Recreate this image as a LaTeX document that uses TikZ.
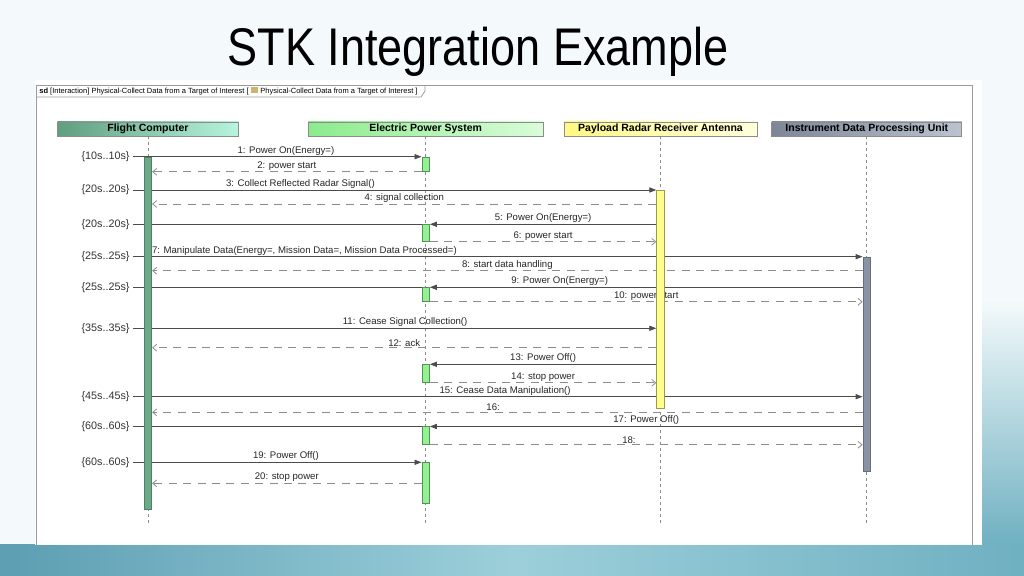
\documentclass[tikz,border=0pt]{standalone}
\usepackage{fontspec}
\setmainfont{Liberation Sans}
\usetikzlibrary{arrows.meta,positioning}
\pgfdeclarelayer{back}
\pgfsetlayers{back,main}
\definecolor{slide}{HTML}{F4FAFB}
\definecolor{tealA}{HTML}{5C9EB2}
\definecolor{tealB}{HTML}{9CCFDA}
\definecolor{tealC}{HTML}{6FB0C1}
\definecolor{frameline}{HTML}{9A9A9A}
\definecolor{fcL}{HTML}{5E9F7F}
\definecolor{fcR}{HTML}{B8F4DE}
\definecolor{fcfill}{HTML}{6BAA87}
\definecolor{epsL}{HTML}{8CEB8C}
\definecolor{epsR}{HTML}{D9FCD9}
\definecolor{epsfill}{HTML}{92F292}
\definecolor{prL}{HTML}{FFF985}
\definecolor{prR}{HTML}{FFFFDC}
\definecolor{prfill}{HTML}{FFFF8A}
\definecolor{idL}{HTML}{7D8697}
\definecolor{idR}{HTML}{BBC3CF}
\definecolor{idfill}{HTML}{8893A3}
\definecolor{iconcol}{HTML}{CDB46A}

\begin{document}
\begin{tikzpicture}[x=0.5pt,y=-0.5pt,
    head node/.style={draw=black!45,line width=0.4pt,minimum height=7pt,inner sep=0pt,font=\fontsize{5.25}{6}\selectfont\bfseries},
    act node/.style={draw,line width=0.4pt,minimum width=3.8pt,inner sep=0pt,anchor=north},
    time node/.style={anchor=east,inner xsep=1.5pt,inner ysep=0pt,font=\fontsize{5.4}{6}\selectfont,text=black!80},
    msg node/.style={above,inner sep=0.6pt,font=\fontsize{4.8}{5.5}\selectfont,text=black!85},
    call/.style={draw=black!70,line width=0.4pt,-{Triangle[length=3.5pt,width=2.6pt]}},
    reply/.style={draw=black!45,line width=0.4pt,dash pattern=on 4pt off 3.2pt,-{Straight Barb[length=2pt,width=3.4pt]}},
    guard/.style={draw=black!70,line width=0.4pt},
    life/.style={draw=black!45,line width=0.4pt,dash pattern=on 1.5pt off 1.5pt}]

  \useasboundingbox (0,0) rectangle (1024,576);
  \begin{pgfonlayer}{back}
    \fill[slide] (0,0) rectangle (1024,576);
    \shade[top color=slide,bottom color=tealC] (982,300) rectangle (1024,545);
    \shade[left color=tealA,right color=tealC,middle color=tealB] (0,545) rectangle (1024,576);
    \fill[white] (35,80) rectangle (982,545);
    \draw[frameline,line width=0.4pt] (36,545) -- (36,85) -- (972,85) -- (972,545);
    \draw[frameline,line width=0.4pt] (36,97) -- (421,97) -- (425,91) -- (425,85);
  \end{pgfonlayer}

  \node[anchor=base,font=\fontsize{26.5}{30}\selectfont] (title) at (478,66) {\scalebox{0.85}[1]{STK Integration Example}};
  \node[anchor=base west,inner sep=0pt,font=\fontsize{3.75}{4.5}\selectfont] (tab) at (39,93.5)
    {\textbf{sd} [Interaction] Physical-Collect Data from a Target of Interest [ \textcolor{iconcol}{\rule{3.8pt}{3.4pt}} Physical-Collect Data from a Target of Interest ]};

  \node[head node,anchor=west,left color=fcL,right color=fcR,minimum width=90.5pt] (fc) at (57,129) {Flight Computer};
  \node[head node,left color=epsL,right color=epsR,minimum width=117.5pt] (eps) [right=34.5pt of fc] {Electric Power System};
  \node[head node,left color=prL,right color=prR,minimum width=96.5pt] (pra) [right=10pt of eps] {Payload Radar Receiver Antenna};
  \node[head node,left color=idL,right color=idR,minimum width=95pt] (idp) [right=7pt of pra] {Instrument Data Processing Unit};

  \begin{pgfonlayer}{back}
    \draw[life] (fc.south) -- (fc.south |- 0,523);
    \draw[life] (eps.south) -- (eps.south |- 0,523);
    \draw[life] (pra.south) -- (pra.south |- 0,523);
    \draw[life] (idp.south) -- (idp.south |- 0,523);
  \end{pgfonlayer}

  \node[act node,fill=fcfill,draw=fcfill!75!black,minimum height=176.2pt] (fc1) at (fc |- 0,156.7) {};
  \node[act node,fill=epsfill,draw=epsfill!60!black,minimum height=7.15pt] (eps1) at (eps |- 0,156.7) {};
  \node[act node,fill=epsfill,draw=epsfill!60!black,minimum height=8.35pt] (eps2) at (eps |- 0,224.3) {};
  \node[act node,fill=epsfill,draw=epsfill!60!black,minimum height=6.85pt] (eps3) at (eps |- 0,287.3) {};
  \node[act node,fill=epsfill,draw=epsfill!60!black,minimum height=8.85pt] (eps4) at (eps |- 0,364.3) {};
  \node[act node,fill=epsfill,draw=epsfill!60!black,minimum height=8.75pt] (eps5) at (eps |- 0,426.5) {};
  \node[act node,fill=epsfill,draw=epsfill!60!black,minimum height=20.35pt] (eps6) at (eps |- 0,462.3) {};
  \node[act node,fill=prfill,draw=prfill!60!black,minimum height=109pt] (pra1) at (pra |- 0,190) {};
  \node[act node,fill=idfill,draw=idfill!75!black,minimum height=107.15pt] (idp1) at (idp |- 0,256.7) {};

  \node[time node] (t1) at (133,156.7) {\{10s..10s\}};
  \node[time node] (t2) at (133,190) {\{20s..20s\}};
  \node[time node] (t3) at (133,224.3) {\{20s..20s\}};
  \node[time node] (t4) at (133,256.7) {\{25s..25s\}};
  \node[time node] (t5) at (133,287.3) {\{25s..25s\}};
  \node[time node] (t6) at (133,328.3) {\{35s..35s\}};
  \node[time node] (t7) at (133,396.7) {\{45s..45s\}};
  \node[time node] (t8) at (133,426.5) {\{60s..60s\}};
  \node[time node] (t9) at (133,462.3) {\{60s..60s\}};

  \begin{pgfonlayer}{back}
    \path[every node/.style={msg node}]
      (t1.east) edge[call] node[pos=.53] {1: Power On(Energy=)} (eps1.north west)
      (eps1.south west) edge[reply] node {2: power start} (fc1.east |- eps1.south)
      (t2.east) edge[call] node[pos=.32] {3: Collect Reflected Radar Signal()} (pra1.north west)
      (pra1.west |- 0,204) edge[reply] node {4: signal collection} (fc1.east |- 0,204)
      (t3.east) edge[guard] (eps2.north west)
      (pra1.west |- eps2.north) edge[call] node {5: Power On(Energy=)} (eps2.north east)
      (eps2.south east) edge[reply] node {6: power start} (pra1.west |- eps2.south)
      (t4.east) edge[call] node[pos=.235] {7: Manipulate Data(Energy=, Mission Data=, Mission Data Processed=)} (idp1.north west)
      (idp1.west |- 0,270.7) edge[reply] node {8: start data handling} (fc1.east |- 0,270.7)
      (t5.east) edge[guard] (eps3.north west)
      (idp1.west |- eps3.north) edge[call] node[pos=.7] {9: Power On(Energy=)} (eps3.north east)
      (eps3.south east) edge[reply] node {10: power start} (idp1.west |- eps3.south)
      (t6.east) edge[call] node[pos=.52] {11: Cease Signal Collection()} (pra1.west |- t6.east)
      (pra1.west |- 0,347.7) edge[reply] node {12: ack} (fc1.east |- 0,347.7)
      (pra1.west |- eps4.north) edge[call] node {13: Power Off()} (eps4.north east)
      (eps4.south east) edge[reply] node {14: stop power} (pra1.west |- eps4.south)
      (t7.east) edge[call] node[pos=.51] {15: Cease Data Manipulation()} (idp1.west |- t7.east)
      (idp1.west |- 0,412.3) edge[reply] node[pos=.52] {16:} (fc1.east |- 0,412.3)
      (t8.east) edge[guard] (eps5.north west)
      (idp1.west |- eps5.north) edge[call] node {17: Power Off()} (eps5.north east)
      (eps5.south east) edge[reply] node[pos=.46] {18:} (idp1.west |- eps5.south)
      (t9.east) edge[call] node[pos=.53] {19: Power Off()} (eps6.north west)
      (eps6.west |- 0,483.3) edge[reply] node {20: stop power} (fc1.east |- 0,483.3);
  \end{pgfonlayer}
\end{tikzpicture}
\end{document}
